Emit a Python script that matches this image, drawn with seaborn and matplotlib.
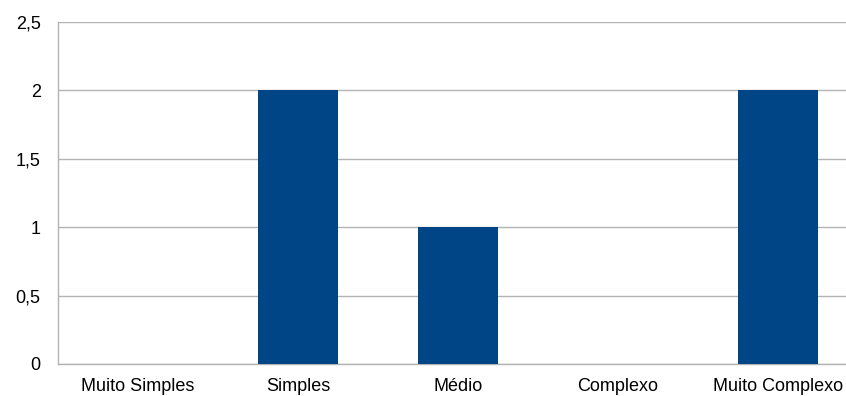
import matplotlib
matplotlib.use("Agg")
import matplotlib.pyplot as plt
import seaborn as sns
from matplotlib.ticker import FixedLocator, FuncFormatter

categories = ["Muito Simples", "Simples", "Médio", "Complexo", "Muito Complexo"]
values = [0, 2, 1, 0, 2]
y_ticks = [0, 0.5, 1, 1.5, 2, 2.5]

sns.set_style("white")
plt.rcParams["font.family"] = ["Liberation Sans", "DejaVu Sans"]

grey = "#b3b3b3"
bar_color = "#004586"

fig = plt.figure(figsize=(8.46, 3.96), dpi=100)
ax = fig.add_axes([58 / 846, (396 - 364) / 396, 800 / 846, (364 - 22) / 396])

sns.barplot(x=categories, y=values, color=bar_color, saturation=1, width=0.5,
            linewidth=0, ax=ax, zorder=3)

ax.set_xlim(-0.5, len(categories) - 0.5)
ax.set_ylim(0, 2.5)
ax.set_xlabel("")
ax.set_ylabel("")

# y axis: comma decimal labels, gridlines at each step
ax.yaxis.set_major_locator(FixedLocator(y_ticks))
ax.yaxis.set_major_formatter(FuncFormatter(lambda v, p: f"{v:g}".replace(".", ",")))
ax.yaxis.grid(True, color=grey, linewidth=1, zorder=0)
ax.set_axisbelow(True)
ax.tick_params(axis="y", direction="out", length=6.5, width=1, color=grey,
               labelsize=13, pad=6, labelcolor="black")

# x axis: tick marks between categories, labels centred under them
ax.xaxis.set_major_locator(FixedLocator([i - 0.5 for i in range(len(categories) + 1)]))
ax.xaxis.set_minor_locator(FixedLocator(list(range(len(categories)))))
ax.xaxis.set_major_formatter(FuncFormatter(lambda v, p: ""))
ax.xaxis.set_minor_formatter(FuncFormatter(lambda v, p: categories[int(round(v))]))
ax.tick_params(axis="x", which="major", direction="out", length=5, width=1, color=grey)
ax.tick_params(axis="x", which="minor", length=0, labelsize=13, pad=10, labelcolor="black")

for side in ["top", "right"]:
    ax.spines[side].set_visible(False)
for side in ["left", "bottom"]:
    ax.spines[side].set_color(grey)
    ax.spines[side].set_linewidth(1)

fig.savefig("out.png", dpi=100)
